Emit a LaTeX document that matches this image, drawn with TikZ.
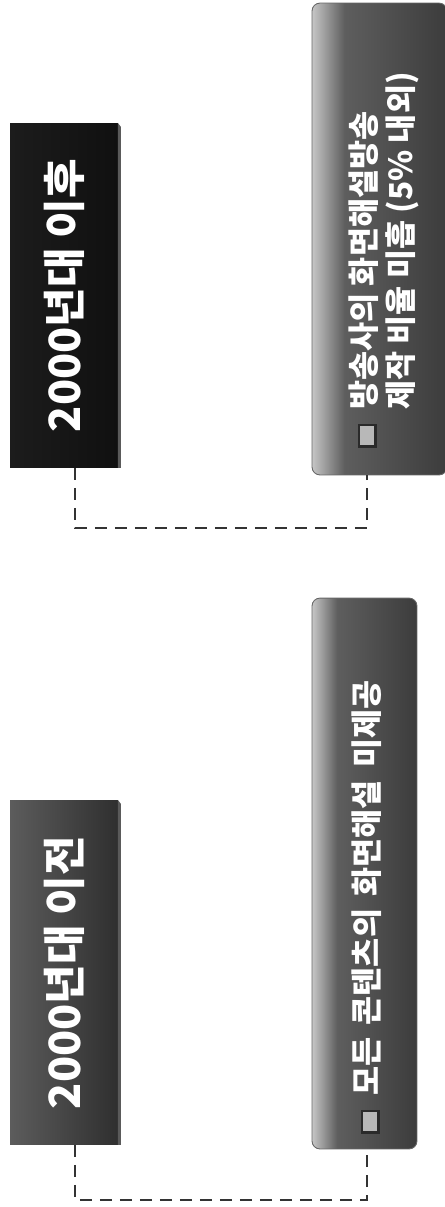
\documentclass[tikz,border=0pt]{standalone}
\usepackage{fontspec}
\setmainfont{Noto Sans CJK KR}
\usepackage{tikz}
\usepackage{graphicx}

\definecolor{newdark}{HTML}{1C1C1C}
\definecolor{newdeep}{HTML}{101010}
\definecolor{olddark}{HTML}{5C5C5C}
\definecolor{olddeep}{HTML}{2F2F2F}
\definecolor{bevelgray}{HTML}{5A5A5A}
\definecolor{linkgray}{HTML}{333333}
\definecolor{chkedge}{HTML}{2A2A2A}
\definecolor{chkface}{HTML}{B8B8B8}
\definecolor{descA}{HTML}{C6C6C6}
\definecolor{descB}{HTML}{5E5E5E}
\definecolor{descC}{HTML}{3C3C3C}

\pgfdeclarehorizontalshading{descshade}{100bp}{color(0bp)=(descA); color(25bp)=(descA); color(37bp)=(descB); color(75bp)=(descC); color(100bp)=(descC)}

\newcommand{\chkbox}{{\setlength{\fboxsep}{0pt}\setlength{\fboxrule}{1.3pt}\raisebox{0.6pt}{\fcolorbox{chkedge}{chkface}{\rule{0pt}{8pt}\hspace{11pt}}}}}

\begin{document}
\begin{tikzpicture}[x=0.02cm, y=-0.02cm,
    periodbox/.style={rectangle, inner sep=0pt, outer sep=0pt,
        minimum width=2.16cm, minimum height=6.9cm, text=white,
        font=\fontsize{24.5}{28}\selectfont\bfseries},
    descbox/.style={rectangle, rounded corners=0.16cm, draw=black!60,
        line width=0.5pt, inner sep=0pt, outer sep=0pt, shading=descshade},
    desctext/.style={rotate=90, anchor=west, inner sep=0pt, text=white,
        font=\fontsize{18}{20}\selectfont\bfseries},
    link/.style={linkgray, line width=1.4pt, dash pattern=on 0.24cm off 0.16cm}]
    \useasboundingbox (0,0) rectangle (444,1207);

    % 2000년대 이후
    \node[periodbox, left color=newdark, right color=newdeep] (after) at (64,295.5)
        {\rotatebox{90}{2000년대 이후}};
    \fill[bevelgray] (after.north east) -- ++(3,4) -- ([xshift=0.06cm]after.south east) -- (after.south east) -- cycle;
    \node[descbox, minimum width=2.7cm, minimum height=9.44cm] (afterdesc) at (379.5,239) {};
    \node[desctext] (afternote) at (386,448)
        {\begin{tabular}{@{}l@{\hspace{8pt}}l@{}}
            \chkbox & 방송사의 화면해설방송\\
                    & 제작 비율 미흡 (5\% 내외)
         \end{tabular}};

    % 2000년대 이전
    \node[periodbox, left color=olddark, right color=olddeep] (before) at (64,972.5)
        {\rotatebox{90}{2000년대 이전}};
    \fill[bevelgray] (before.north east) -- ++(3,4) -- ([xshift=0.06cm]before.south east) -- (before.south east) -- cycle;
    \node[descbox, minimum width=2.1cm, minimum height=11.02cm] (beforedesc) at (364.5,873.5) {};
    \node[desctext] (beforenote) at (366.5,1134)
        {\spaceskip=7pt\relax\chkbox\hspace{8pt}모든 콘텐츠의 화면해설 미제공};

    % 점선 연결
    \draw[link] ([xshift=0.22cm]after.south) -- ++(0,60) -| ([xshift=-0.25cm]afterdesc.south);
    \draw[link] ([xshift=0.22cm]before.south) -- ++(0,55) -| ([xshift=0.05cm]beforedesc.south);

\end{tikzpicture}
\end{document}
